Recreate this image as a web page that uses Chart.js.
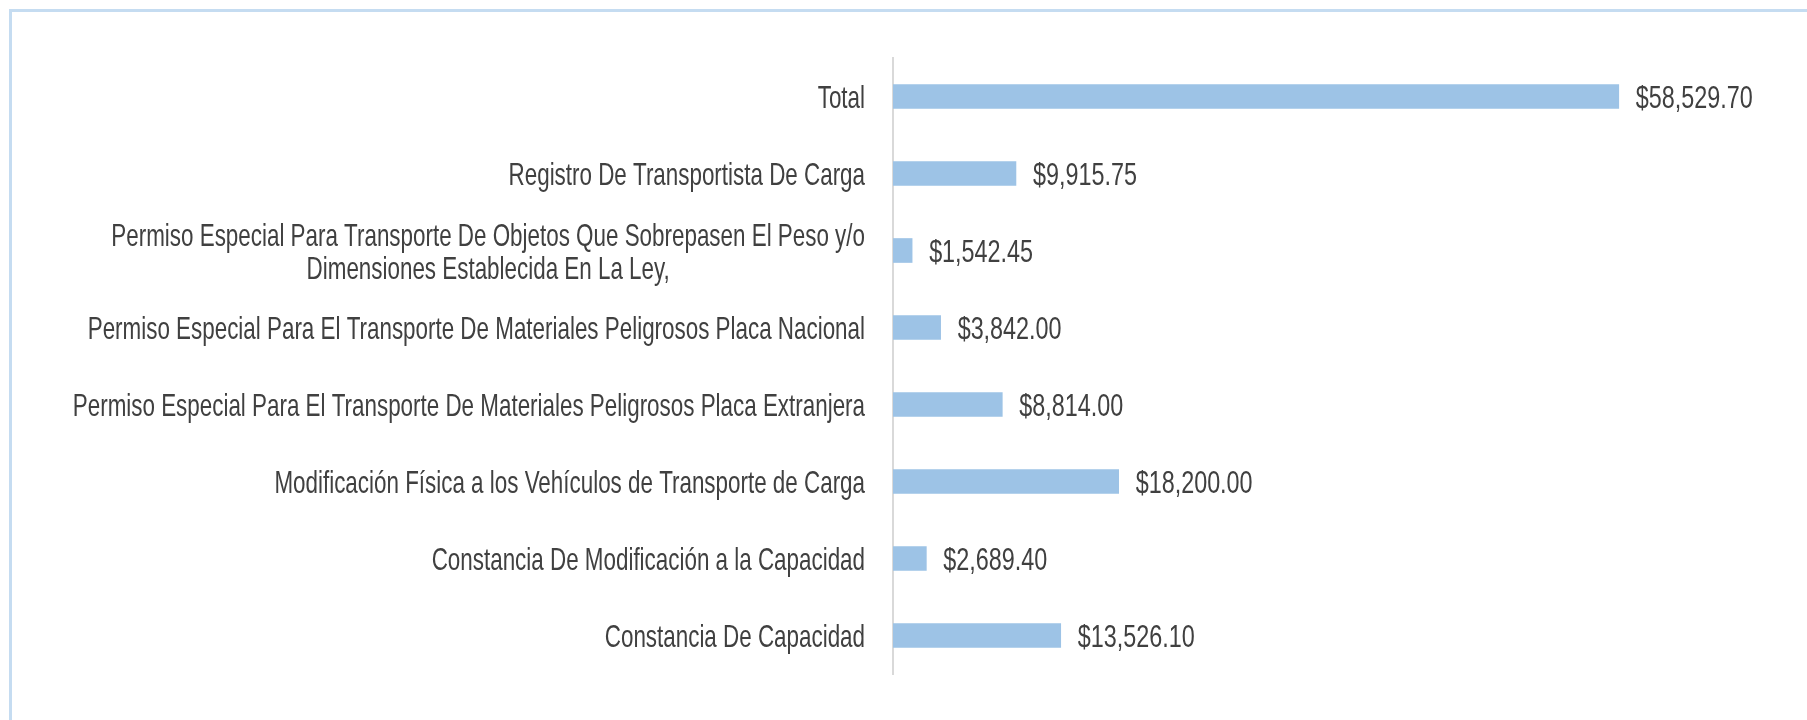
<!DOCTYPE html>
<html>
<head>
<meta charset="utf-8">
<script src="https://cdn.jsdelivr.net/npm/chart.js@4"></script>
<style>
  html, body { margin: 0; padding: 0; background: #ffffff; overflow: hidden; }
  #frame { position: absolute; left: 9px; top: 9px; width: 1820px; height: 740px;
           border-top: 3px solid #c5dcf1; border-left: 3px solid #c5dcf1; box-sizing: border-box; }
  #c { position: absolute; left: 0; top: 0; }
</style>
</head>
<body>
<div id="frame"></div>
<canvas id="c" width="1807" height="720"></canvas>
<script>
// ---- data ----
const categories = [
  "Total",
  "Registro De Transportista De Carga",
  ["Permiso Especial Para Transporte De Objetos Que Sobrepasen El Peso y/o", "Dimensiones Establecida En La Ley,"],
  "Permiso Especial Para El Transporte De Materiales Peligrosos Placa Nacional",
  "Permiso Especial Para El Transporte De Materiales Peligrosos Placa Extranjera",
  "Modificación Física a los Vehículos de Transporte de Carga",
  "Constancia De Modificación a la Capacidad",
  "Constancia De Capacidad"
];
const values = [58529.70, 9915.75, 1542.45, 3842.00, 8814.00, 18200.00, 2689.40, 13526.10];
const axisMin = 0;
const axisMax = 70000;

// ---- styling ----
const TEXT_COLOR = '#404040';
const FONT = "32px 'Liberation Sans', Arial, sans-serif";
const SX_CAT = 0.70;      // horizontal condensing of category text
const SX_VAL = 0.73;      // horizontal condensing of value text
const CAP_HALF = 11.5;    // half cap height, for vertical centring
const LINE_H = 33;

function fmt(v) {
  return '$' + v.toLocaleString('en-US', { minimumFractionDigits: 2, maximumFractionDigits: 2 });
}

function drawText(ctx, text, x, y, align, sx) {
  ctx.save();
  ctx.translate(x, y);
  ctx.scale(sx, 1);
  ctx.textAlign = align;
  ctx.textBaseline = 'alphabetic';
  ctx.fillText(text, 0, 0);
  ctx.restore();
}

const labelPlugin = {
  id: 'condensedLabels',
  afterDraw(chart) {
    const ctx = chart.ctx;
    ctx.save();
    ctx.font = FONT;
    ctx.fillStyle = TEXT_COLOR;
    // category labels
    const ys = chart.scales.y;
    const right = chart.chartArea.left - 28;
    chart.data.labels.forEach((lab, i) => {
      const y = ys.getPixelForValue(i);
      const lines = Array.isArray(lab) ? lab : [lab];
      const n = lines.length;
      if (n === 1) {
        drawText(ctx, lines[0], right, y + CAP_HALF, 'right', SX_CAT);
      } else {
        const w = Math.max(...lines.map(l => ctx.measureText(l).width)) * SX_CAT;
        const cx = right - w / 2;
        lines.forEach((l, j) => {
          const ly = y + (j - (n - 1) / 2) * LINE_H;
          drawText(ctx, l, cx, ly + CAP_HALF, 'center', SX_CAT);
        });
      }
    });
    // value labels
    const meta = chart.getDatasetMeta(0);
    meta.data.forEach((bar, i) => {
      drawText(ctx, fmt(chart.data.datasets[0].data[i]), bar.x + 17, bar.y + CAP_HALF, 'left', SX_VAL);
    });
    ctx.restore();
  }
};

new Chart(document.getElementById('c'), {
  type: 'bar',
  data: {
    labels: categories,
    datasets: [{
      data: values,
      backgroundColor: '#9dc3e6',
      borderWidth: 0,
      barThickness: 24
    }]
  },
  options: {
    indexAxis: 'y',
    responsive: false,
    animation: false,
    devicePixelRatio: 1,
    layout: { padding: { left: 893, right: 46, top: 58, bottom: 46 } },
    scales: {
      x: { display: false, min: axisMin, max: axisMax, grid: { display: false } },
      y: {
        ticks: { display: false },
        grid: { display: false, drawTicks: false },
        border: { display: true, color: '#d9d9d9', width: 2 },
        afterFit(scale) { scale.width = 0; }
      }
    },
    plugins: { legend: { display: false }, tooltip: { enabled: false } }
  },
  plugins: [labelPlugin]
});
</script>
</body>
</html>
